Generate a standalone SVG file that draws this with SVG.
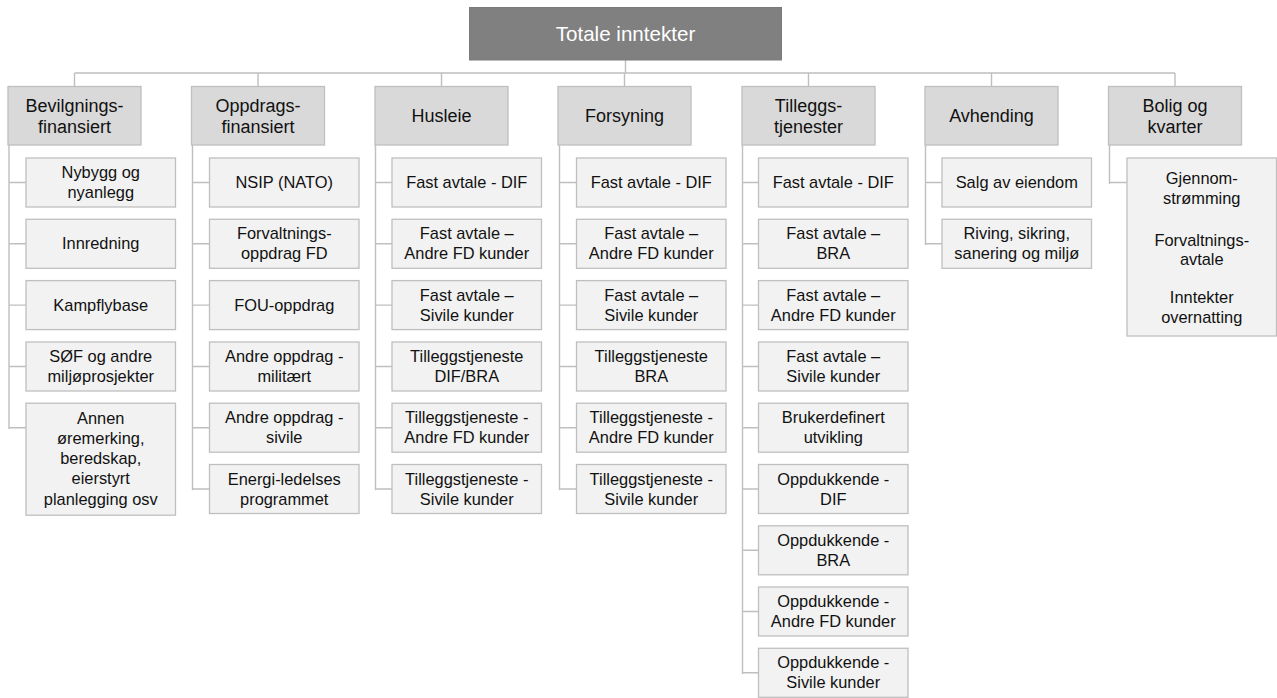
<svg xmlns="http://www.w3.org/2000/svg" width="1277" height="698" viewBox="0 0 1277 698">
  <style>
    .root rect { fill: #808080; stroke: #7a7a7a; stroke-width: 1; }
    .root text { fill: #ffffff; font-size: 20.6px; }
    .hdr rect { fill: #d9d9d9; stroke: #bfbfbf; stroke-width: 1.3; }
    .hdr text { font-size: 18px; }
    .leaf rect { fill: #f2f2f2; stroke: #bfbfbf; stroke-width: 1.3; }
    .leaf text { font-size: 16.4px; }
    text { font-family: "Liberation Sans", Arial, sans-serif; fill: #111111; text-anchor: middle; }
    #connectors path { fill: none; stroke: #bfbfbf; stroke-width: 1.4; }
  </style>

  <!-- connectors -->
  <g id="connectors">
    <!-- root to header bus -->
    <path d="M625.5,60 V73 M74.5,73 H1175 M74.5,73 V86.5 M258,73 V86.5 M441.5,73 V86.5 M624.5,73 V86.5 M808.5,73 V86.5 M991.5,73 V86.5 M1175,73 V86.5"/>
    <!-- Bevilgningsfinansiert -->
    <path d="M9,145 V429 M9,182.5 H26 M9,243.8 H26 M9,305.1 H26 M9,366.5 H26 M9,427.7 H26"/>
    <!-- Oppdragsfinansiert -->
    <path d="M192.5,145 V490.3 M192.5,182.5 H209.5 M192.5,243.8 H209.5 M192.5,305.1 H209.5 M192.5,366.5 H209.5 M192.5,427.7 H209.5 M192.5,489 H209.5"/>
    <!-- Husleie -->
    <path d="M375.5,145 V490.3 M375.5,182.5 H392 M375.5,243.8 H392 M375.5,305.1 H392 M375.5,366.5 H392 M375.5,427.7 H392 M375.5,489 H392"/>
    <!-- Forsyning -->
    <path d="M559.5,145 V490.3 M559.5,182.5 H576.5 M559.5,243.8 H576.5 M559.5,305.1 H576.5 M559.5,366.5 H576.5 M559.5,427.7 H576.5 M559.5,489 H576.5"/>
    <!-- Tilleggstjenester -->
    <path d="M742.5,145 V674 M742.5,182.5 H758.5 M742.5,243.8 H758.5 M742.5,305.1 H758.5 M742.5,366.5 H758.5 M742.5,427.7 H758.5 M742.5,489 H758.5 M742.5,550.3 H758.5 M742.5,611.5 H758.5 M742.5,672.8 H758.5"/>
    <!-- Avhending -->
    <path d="M925.5,145 V245 M925.5,182.5 H942 M925.5,243.8 H942"/>
    <!-- Bolig og kvarter -->
    <path d="M1109.5,145 V184 M1109.5,182.5 H1127"/>
  </g>

  <!-- root -->
  <g id="n-totale" class="root">
    <rect x="469.5" y="7.5" width="312" height="52.5"/>
    <text x="625.5" y="40.7">Totale inntekter</text>
  </g>

  <!-- column headers -->
  <g id="h-bevilgning" class="hdr">
    <rect x="8" y="86.5" width="133" height="58.5"/>
    <text x="74.5"><tspan x="74.5" y="112.3">Bevilgnings-</tspan><tspan x="74.5" y="133.3">finansiert</tspan></text>
  </g>
  <g id="h-oppdrag" class="hdr">
    <rect x="191.5" y="86.5" width="133" height="58.5"/>
    <text x="258"><tspan x="258" y="112.3">Oppdrags-</tspan><tspan x="258" y="133.3">finansiert</tspan></text>
  </g>
  <g id="h-husleie" class="hdr">
    <rect x="375" y="86.5" width="133" height="58.5"/>
    <text x="441.5" y="122.3">Husleie</text>
  </g>
  <g id="h-forsyning" class="hdr">
    <rect x="558" y="86.5" width="133" height="58.5"/>
    <text x="624.5" y="122.3">Forsyning</text>
  </g>
  <g id="h-tillegg" class="hdr">
    <rect x="742" y="86.5" width="133" height="58.5"/>
    <text x="808.5"><tspan x="808.5" y="112.3">Tilleggs-</tspan><tspan x="808.5" y="133.3">tjenester</tspan></text>
  </g>
  <g id="h-avhending" class="hdr">
    <rect x="925" y="86.5" width="133" height="58.5"/>
    <text x="991.5" y="122.3">Avhending</text>
  </g>
  <g id="h-bolig" class="hdr">
    <rect x="1108.5" y="86.5" width="133" height="58.5"/>
    <text x="1175"><tspan x="1175" y="112.3">Bolig og</tspan><tspan x="1175" y="133.3">kvarter</tspan></text>
  </g>

  <!-- Bevilgningsfinansiert items -->
  <g id="b1" class="leaf"><rect x="26" y="158" width="149.5" height="49"/><text><tspan x="100.75" y="178.1">Nybygg og</tspan><tspan x="100.75" y="198.1">nyanlegg</tspan></text></g>
  <g id="b2" class="leaf"><rect x="26" y="219.3" width="149.5" height="49"/><text x="100.75" y="249.4">Innredning</text></g>
  <g id="b3" class="leaf"><rect x="26" y="280.6" width="149.5" height="49"/><text x="100.75" y="310.7">Kampflybase</text></g>
  <g id="b4" class="leaf"><rect x="26" y="342" width="149.5" height="49"/><text><tspan x="100.75" y="362.1">SØF og andre</tspan><tspan x="100.75" y="382.1">miljøprosjekter</tspan></text></g>
  <g id="b5" class="leaf"><rect x="26" y="403.2" width="149.5" height="112"/><text><tspan x="100.75" y="423.5">Annen</tspan><tspan x="100.75" y="443.8">øremerking,</tspan><tspan x="100.75" y="464.1">beredskap,</tspan><tspan x="100.75" y="484.4">eierstyrt</tspan><tspan x="100.75" y="504.7">planlegging osv</tspan></text></g>

  <!-- Oppdragsfinansiert items -->
  <g id="o1" class="leaf"><rect x="209.5" y="158" width="149.5" height="49"/><text x="284.25" y="188.1">NSIP (NATO)</text></g>
  <g id="o2" class="leaf"><rect x="209.5" y="219.3" width="149.5" height="49"/><text><tspan x="284.25" y="239.4">Forvaltnings-</tspan><tspan x="284.25" y="259.4">oppdrag FD</tspan></text></g>
  <g id="o3" class="leaf"><rect x="209.5" y="280.6" width="149.5" height="49"/><text x="284.25" y="310.7">FOU-oppdrag</text></g>
  <g id="o4" class="leaf"><rect x="209.5" y="342" width="149.5" height="49"/><text><tspan x="284.25" y="362.1">Andre oppdrag -</tspan><tspan x="284.25" y="382.1">militært</tspan></text></g>
  <g id="o5" class="leaf"><rect x="209.5" y="403.2" width="149.5" height="49"/><text><tspan x="284.25" y="423.3">Andre oppdrag -</tspan><tspan x="284.25" y="443.3">sivile</tspan></text></g>
  <g id="o6" class="leaf"><rect x="209.5" y="464.5" width="149.5" height="49"/><text><tspan x="284.25" y="484.6">Energi-ledelses</tspan><tspan x="284.25" y="504.6">programmet</tspan></text></g>

  <!-- Husleie items -->
  <g id="hu1" class="leaf"><rect x="392" y="158" width="149.5" height="49"/><text x="466.75" y="188.1">Fast avtale - DIF</text></g>
  <g id="hu2" class="leaf"><rect x="392" y="219.3" width="149.5" height="49"/><text><tspan x="466.75" y="239.4">Fast avtale –</tspan><tspan x="466.75" y="259.4">Andre FD kunder</tspan></text></g>
  <g id="hu3" class="leaf"><rect x="392" y="280.6" width="149.5" height="49"/><text><tspan x="466.75" y="300.7">Fast avtale –</tspan><tspan x="466.75" y="320.7">Sivile kunder</tspan></text></g>
  <g id="hu4" class="leaf"><rect x="392" y="342" width="149.5" height="49"/><text><tspan x="466.75" y="362.1">Tilleggstjeneste</tspan><tspan x="466.75" y="382.1">DIF/BRA</tspan></text></g>
  <g id="hu5" class="leaf"><rect x="392" y="403.2" width="149.5" height="49"/><text><tspan x="466.75" y="423.3">Tilleggstjeneste -</tspan><tspan x="466.75" y="443.3">Andre FD kunder</tspan></text></g>
  <g id="hu6" class="leaf"><rect x="392" y="464.5" width="149.5" height="49"/><text><tspan x="466.75" y="484.6">Tilleggstjeneste -</tspan><tspan x="466.75" y="504.6">Sivile kunder</tspan></text></g>

  <!-- Forsyning items -->
  <g id="f1" class="leaf"><rect x="576.5" y="158" width="149.5" height="49"/><text x="651.25" y="188.1">Fast avtale - DIF</text></g>
  <g id="f2" class="leaf"><rect x="576.5" y="219.3" width="149.5" height="49"/><text><tspan x="651.25" y="239.4">Fast avtale –</tspan><tspan x="651.25" y="259.4">Andre FD kunder</tspan></text></g>
  <g id="f3" class="leaf"><rect x="576.5" y="280.6" width="149.5" height="49"/><text><tspan x="651.25" y="300.7">Fast avtale –</tspan><tspan x="651.25" y="320.7">Sivile kunder</tspan></text></g>
  <g id="f4" class="leaf"><rect x="576.5" y="342" width="149.5" height="49"/><text><tspan x="651.25" y="362.1">Tilleggstjeneste</tspan><tspan x="651.25" y="382.1">BRA</tspan></text></g>
  <g id="f5" class="leaf"><rect x="576.5" y="403.2" width="149.5" height="49"/><text><tspan x="651.25" y="423.3">Tilleggstjeneste -</tspan><tspan x="651.25" y="443.3">Andre FD kunder</tspan></text></g>
  <g id="f6" class="leaf"><rect x="576.5" y="464.5" width="149.5" height="49"/><text><tspan x="651.25" y="484.6">Tilleggstjeneste -</tspan><tspan x="651.25" y="504.6">Sivile kunder</tspan></text></g>

  <!-- Tilleggstjenester items -->
  <g id="t1" class="leaf"><rect x="758.5" y="158" width="149.5" height="49"/><text x="833.25" y="188.1">Fast avtale - DIF</text></g>
  <g id="t2" class="leaf"><rect x="758.5" y="219.3" width="149.5" height="49"/><text><tspan x="833.25" y="239.4">Fast avtale –</tspan><tspan x="833.25" y="259.4">BRA</tspan></text></g>
  <g id="t3" class="leaf"><rect x="758.5" y="280.6" width="149.5" height="49"/><text><tspan x="833.25" y="300.7">Fast avtale –</tspan><tspan x="833.25" y="320.7">Andre FD kunder</tspan></text></g>
  <g id="t4" class="leaf"><rect x="758.5" y="342" width="149.5" height="49"/><text><tspan x="833.25" y="362.1">Fast avtale –</tspan><tspan x="833.25" y="382.1">Sivile kunder</tspan></text></g>
  <g id="t5" class="leaf"><rect x="758.5" y="403.2" width="149.5" height="49"/><text><tspan x="833.25" y="423.3">Brukerdefinert</tspan><tspan x="833.25" y="443.3">utvikling</tspan></text></g>
  <g id="t6" class="leaf"><rect x="758.5" y="464.5" width="149.5" height="49"/><text><tspan x="833.25" y="484.6">Oppdukkende -</tspan><tspan x="833.25" y="504.6">DIF</tspan></text></g>
  <g id="t7" class="leaf"><rect x="758.5" y="525.8" width="149.5" height="49"/><text><tspan x="833.25" y="545.9">Oppdukkende -</tspan><tspan x="833.25" y="565.9">BRA</tspan></text></g>
  <g id="t8" class="leaf"><rect x="758.5" y="587" width="149.5" height="49"/><text><tspan x="833.25" y="607.1">Oppdukkende -</tspan><tspan x="833.25" y="627.1">Andre FD kunder</tspan></text></g>
  <g id="t9" class="leaf"><rect x="758.5" y="648.3" width="149.5" height="49"/><text><tspan x="833.25" y="668.4">Oppdukkende -</tspan><tspan x="833.25" y="688.4">Sivile kunder</tspan></text></g>

  <!-- Avhending items -->
  <g id="a1" class="leaf"><rect x="942" y="158" width="149.5" height="49"/><text x="1016.75" y="188.1">Salg av eiendom</text></g>
  <g id="a2" class="leaf"><rect x="942" y="219.3" width="149.5" height="49"/><text><tspan x="1016.75" y="239.4">Riving, sikring,</tspan><tspan x="1016.75" y="259.4">sanering og miljø</tspan></text></g>

  <!-- Bolig og kvarter item -->
  <g id="k1" class="leaf"><rect x="1127" y="158" width="149.5" height="178"/><text><tspan x="1201.75" y="183.6">Gjennom-</tspan><tspan x="1201.75" y="203.6">strømming</tspan><tspan x="1201.75" y="245.6">Forvaltnings-</tspan><tspan x="1201.75" y="264.6">avtale</tspan><tspan x="1201.75" y="302.6">Inntekter</tspan><tspan x="1201.75" y="322.6">overnatting</tspan></text></g>
</svg>
